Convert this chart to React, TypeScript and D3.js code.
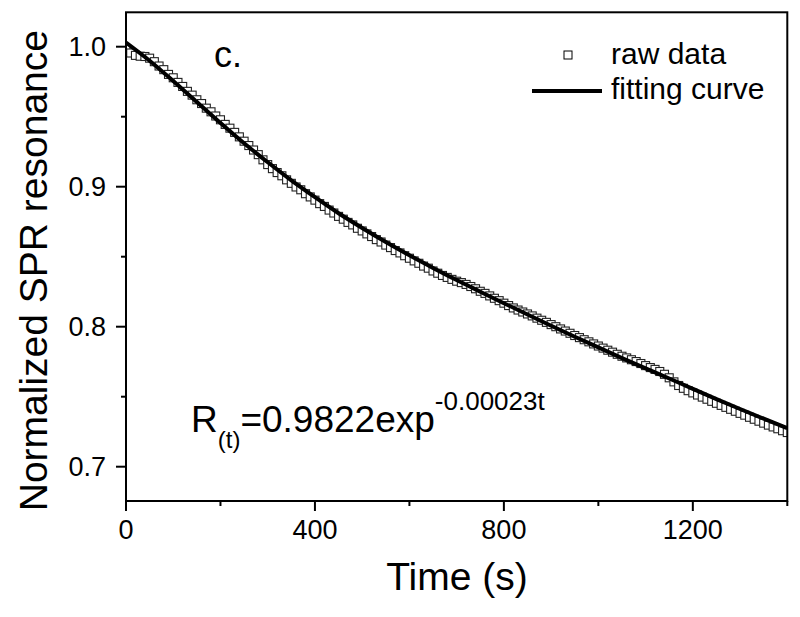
import React from "react";
import * as d3 from "d3";

// ---- data ----
const rawTimes: number[] = d3.range(0, 1401, 10);
const rawValues: number[] = [
  0.9985, 0.9955, 0.9938, 0.9932, 0.993, 0.9918, 0.9893, 0.9862, 0.9836, 0.9802,
  0.9778, 0.9745, 0.9716, 0.9681, 0.9654, 0.9621, 0.9594, 0.9561, 0.9535, 0.9505,
  0.9478, 0.9445, 0.9418, 0.9388, 0.9356, 0.9325, 0.9294, 0.9262, 0.9229, 0.9192,
  0.9158, 0.9129, 0.9101, 0.9078, 0.9049, 0.9024, 0.8998, 0.8978, 0.895, 0.8927,
  0.8904, 0.8879, 0.8859, 0.8833, 0.8812, 0.8788, 0.8768, 0.8745, 0.8727, 0.8703,
  0.8684, 0.8663, 0.8644, 0.8622, 0.8605, 0.8583, 0.8565, 0.8544, 0.8527, 0.8507,
  0.8489, 0.847, 0.8453, 0.8433, 0.8418, 0.8398, 0.8382, 0.8366, 0.8352, 0.8338,
  0.8325, 0.8315, 0.8302, 0.8287, 0.8271, 0.8253, 0.8238, 0.822, 0.8203, 0.8186,
  0.8168, 0.8151, 0.8134, 0.8119, 0.8105, 0.8091, 0.8077, 0.8061, 0.8046, 0.8031,
  0.8015, 0.8, 0.7984, 0.7969, 0.7953, 0.7937, 0.7922, 0.7907, 0.7892, 0.7877,
  0.7862, 0.7847, 0.7832, 0.7818, 0.7803, 0.7789, 0.7777, 0.7764, 0.7751, 0.7737,
  0.7722, 0.7708, 0.7695, 0.768, 0.766, 0.7635, 0.7606, 0.758, 0.756, 0.7543,
  0.7527, 0.7512, 0.7497, 0.7482, 0.7467, 0.7453, 0.7438, 0.7424, 0.741, 0.7396,
  0.7381, 0.7368, 0.7353, 0.7339, 0.7325, 0.7311, 0.7297, 0.7284, 0.7271, 0.7257,
  0.7244,
];
const fitTimes: number[] = d3.range(0, 1401, 50);
const fitValues: number[] = [
  1.003, 0.99, 0.9755, 0.9605, 0.9455, 0.931, 0.9175, 0.9045, 0.8925, 0.881,
  0.8705, 0.8605, 0.851, 0.842, 0.8333, 0.825, 0.8168, 0.8087, 0.8007, 0.7928,
  0.7852, 0.7776, 0.7702, 0.763, 0.7556, 0.7483, 0.7412, 0.7343, 0.7275,
];
const xMajorTicks: number[] = [0, 400, 800, 1200];
const xMinorTicks: number[] = [200, 600, 1000, 1400];
const yMajorTicks: number[] = [0.7, 0.8, 0.9, 1.0];
const yMinorTicks: number[] = [0.75, 0.85, 0.95];

const FONT = "'Liberation Sans', Arial, Helvetica, sans-serif";

export default function App() {
  const left = 126, right = 787.3, top = 12.3, bottom = 501;
  const x = d3.scaleLinear().domain([0, 1400]).range([left, right]);
  const y = d3.scaleLinear().domain([0.7, 1.0]).range([466.7, 46.7]);

  const fitLine = d3
    .line<number>()
    .x((_, i) => x(fitTimes[i]))
    .y((d) => y(d))
    .curve(d3.curveMonotoneX);

  const sq = 8;

  return (
    <svg
      width={800}
      height={617}
      style={{ position: "absolute", left: 0, top: 0, background: "#fff" }}
      fontFamily={FONT}
    >
      <rect x={0} y={0} width={800} height={617} fill="#fff" />
      <defs>
        <clipPath id="plotclip">
          <rect x={left} y={top} width={right - left} height={bottom - top} />
        </clipPath>
      </defs>

      {/* raw data squares */}
      <g clipPath="url(#plotclip)">
        {rawValues.map((v, i) => (
          <rect
            key={i}
            x={x(rawTimes[i]) - sq / 2}
            y={y(v) - sq / 2}
            width={sq}
            height={sq}
            fill="#fff"
            stroke="#222"
            strokeWidth={1.1}
          />
        ))}
        <path d={fitLine(fitValues) || ""} fill="none" stroke="#000" strokeWidth={4} />
      </g>

      {/* frame */}
      <rect x={left} y={top} width={right - left} height={bottom - top} fill="none" stroke="#000" strokeWidth={2} />

      {/* x ticks */}
      {xMajorTicks.map((t) => (
        <g key={"xm" + t}>
          <line x1={x(t)} x2={x(t)} y1={bottom} y2={bottom + 10} stroke="#000" strokeWidth={2} />
          <text x={x(t)} y={539} fontSize={27} textAnchor="middle" fill="#000">
            {t}
          </text>
        </g>
      ))}
      {xMinorTicks.map((t) => (
        <line key={"xn" + t} x1={x(t)} x2={x(t)} y1={bottom} y2={bottom + 5} stroke="#000" strokeWidth={2} />
      ))}

      {/* y ticks */}
      {yMajorTicks.map((t) => (
        <g key={"ym" + t}>
          <line x1={left - 10} x2={left} y1={y(t)} y2={y(t)} stroke="#000" strokeWidth={2} />
          <text x={106} y={y(t) + 9.5} fontSize={27} textAnchor="end" fill="#000">
            {t.toFixed(1)}
          </text>
        </g>
      ))}
      {yMinorTicks.map((t) => (
        <line key={"yn" + t} x1={left - 5} x2={left} y1={y(t)} y2={y(t)} stroke="#000" strokeWidth={2} />
      ))}

      {/* axis titles */}
      <text x={457} y={590} fontSize={39} textAnchor="middle" fill="#000">
        Time (s)
      </text>
      <text
        transform={`translate(47, ${(top + bottom) / 2 + 14}) rotate(-90)`}
        fontSize={39}
        textAnchor="middle"
        fill="#000"
      >
        Normalized SPR resonance
      </text>

      {/* panel label */}
      <text x={214} y={67} fontSize={36} fill="#000">
        c.
      </text>

      {/* legend */}
      <rect x={564} y={51} width={sq} height={sq} fill="#fff" stroke="#000" strokeWidth={1} />
      <text x={611} y={64} fontSize={30} fill="#000">
        raw data
      </text>
      <line x1={532} x2={602} y1={91} y2={91} stroke="#000" strokeWidth={4} />
      <text x={611} y={98.5} fontSize={30} fill="#000">
        fitting curve
      </text>

      {/* equation */}
      <text x={191} y={432} fontSize={37} fill="#000">
        R
        <tspan fontSize={24} dy={16}>(t)</tspan>
        <tspan fontSize={37} dy={-16}>=0.9822exp</tspan>
        <tspan fontSize={26} dy={-22}>-0.00023t</tspan>
      </text>
    </svg>
  );
}
